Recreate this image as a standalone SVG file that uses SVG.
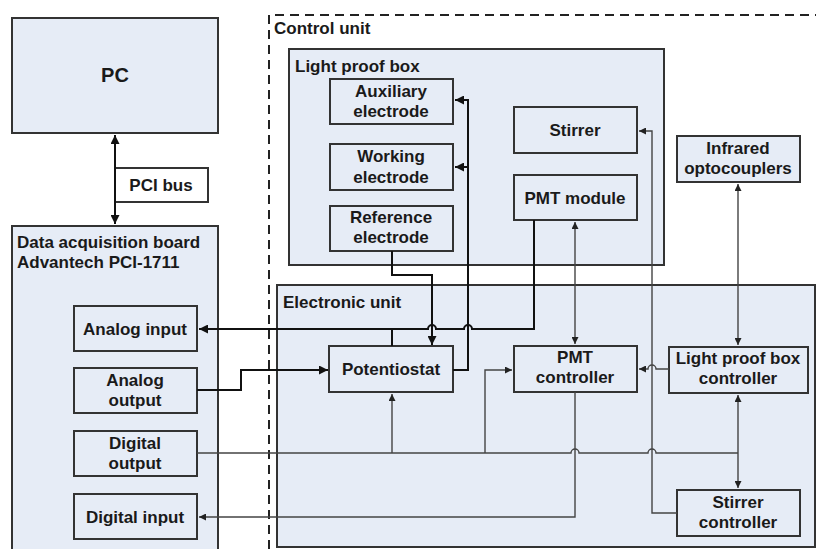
<svg xmlns="http://www.w3.org/2000/svg" width="816" height="549" viewBox="0 0 816 549">
<style>
.bx{fill:#e6ecf6;stroke:#333;stroke-width:2}
.pl{fill:#fff;stroke:#333;stroke-width:2}
.t{font-family:"Liberation Sans",Arial,sans-serif;font-weight:bold;font-size:17px;fill:#1a1a1a}
.c{text-anchor:middle}
.k{fill:none;stroke:#111;stroke-width:2}
.n{fill:none;stroke:#444;stroke-width:1.4}
</style>
<defs>
<marker id="ak" viewBox="0 0 10 10" refX="10" refY="5" markerWidth="9" markerHeight="9" markerUnits="userSpaceOnUse" orient="auto-start-reverse"><path d="M0,0L10,5L0,10z" fill="#111"/></marker>
<marker id="an" viewBox="0 0 10 10" refX="10" refY="5" markerWidth="7" markerHeight="7" markerUnits="userSpaceOnUse" orient="auto-start-reverse"><path d="M0,0L10,5L0,10z" fill="#222"/></marker>
</defs>
<rect width="816" height="549" fill="#fff"/>
<g id="control-unit">
<path d="M269,549V15H816" fill="none" stroke="#222" stroke-width="2" stroke-dasharray="9,6"/>
<text class="t" x="274" y="34">Control unit</text>
</g>
<g id="pc"><rect class="bx" x="12" y="18" width="206" height="115"/><text class="t c" x="115" y="82" font-size="20" style="font-size:20px">PC</text></g>
<g id="pci-bus"><rect class="pl" x="115" y="168" width="93" height="34"/><text class="t c" x="161" y="191">PCI bus</text></g>
<g id="daq"><rect class="bx" x="12" y="226" width="206" height="340"/><text class="t" x="17" y="248">Data acquisition board</text><text class="t" x="17" y="268">Advantech PCI-1711</text></g>
<g id="analog-input"><rect class="bx" x="74" y="306" width="123" height="45"/><text class="t c" x="135" y="335">Analog input</text></g>
<g id="analog-output"><rect class="bx" x="74" y="368" width="123" height="45"/><text class="t c" x="135" y="386">Analog</text><text class="t c" x="135" y="406">output</text></g>
<g id="digital-output"><rect class="bx" x="74" y="431" width="123" height="45"/><text class="t c" x="135" y="449">Digital</text><text class="t c" x="135" y="469">output</text></g>
<g id="digital-input"><rect class="bx" x="74" y="494" width="123" height="45"/><text class="t c" x="135" y="523">Digital input</text></g>
<g id="light-proof-box"><rect class="bx" x="289" y="49" width="375" height="216"/><text class="t" x="295" y="72">Light proof box</text></g>
<g id="auxiliary-electrode"><rect class="bx" x="330" y="79" width="123" height="45"/><text class="t c" x="391" y="97">Auxiliary</text><text class="t c" x="391" y="117">electrode</text></g>
<g id="working-electrode"><rect class="bx" x="330" y="144" width="123" height="46"/><text class="t c" x="391" y="162">Working</text><text class="t c" x="391" y="183">electrode</text></g>
<g id="reference-electrode"><rect class="bx" x="330" y="206" width="123" height="45"/><text class="t c" x="391" y="223">Reference</text><text class="t c" x="391" y="243">electrode</text></g>
<g id="stirrer"><rect class="bx" x="514" y="107" width="123" height="46"/><text class="t c" x="575" y="136">Stirrer</text></g>
<g id="pmt-module"><rect class="bx" x="514" y="175" width="123" height="45"/><text class="t c" x="575" y="204">PMT module</text></g>
<g id="infrared-optocouplers"><rect class="bx" x="677" y="136" width="123" height="46"/><text class="t c" x="738" y="154">Infrared</text><text class="t c" x="738" y="174">optocouplers</text></g>
<g id="electronic-unit"><rect class="bx" x="277" y="285" width="538" height="262"/><text class="t" x="283" y="308">Electronic unit</text></g>
<g id="potentiostat"><rect class="bx" x="329" y="346" width="124" height="46"/><text class="t c" x="391" y="375">Potentiostat</text></g>
<g id="pmt-controller"><rect class="bx" x="514" y="346" width="123" height="46"/><text class="t c" x="575" y="363">PMT</text><text class="t c" x="575" y="383">controller</text></g>
<g id="light-proof-box-controller"><rect class="bx" x="669" y="347" width="139" height="46"/><text class="t c" x="738" y="364">Light proof box</text><text class="t c" x="738" y="384">controller</text></g>
<g id="stirrer-controller"><rect class="bx" x="677" y="490" width="123" height="46"/><text class="t c" x="738" y="508">Stirrer</text><text class="t c" x="738" y="528">controller</text></g>
<g id="connectors">
<path class="k" d="M115,135V224" marker-start="url(#ak)" marker-end="url(#ak)"/>
<path class="k" d="M534,220V329H472a4,4 0 0 0 -8,0H436a4,4 0 0 0 -8,0H199" marker-end="url(#ak)"/>
<path class="k" d="M392,346V329"/>
<path class="k" d="M392,251V275H432V345" marker-end="url(#ak)"/>
<path class="k" d="M453,370H468V100H455" marker-end="url(#ak)"/>
<path class="k" d="M468,167H455" marker-end="url(#ak)"/>
<path class="k" d="M197,390H241V370H328" marker-end="url(#ak)"/>
<path class="n" d="M575,222V344" marker-start="url(#an)" marker-end="url(#an)"/>
<path class="n" d="M738,184V345" marker-start="url(#an)" marker-end="url(#an)"/>
<path class="n" d="M738,395V488" marker-start="url(#an)" marker-end="url(#an)"/>
<path class="n" d="M197,453H571a4,4 0 0 1 8,0H648a4,4 0 0 1 8,0H738"/>
<path class="n" d="M392,453V394" marker-end="url(#an)"/>
<path class="n" d="M485,453V370H512" marker-end="url(#an)"/>
<path class="n" d="M575,392V517H199" marker-end="url(#an)"/>
<path class="n" d="M677,513H652V131H639" marker-end="url(#an)"/>
<path class="n" d="M669,369H656a4,4 0 0 0 -8,0H639" marker-end="url(#an)"/>
</g>
</svg>
